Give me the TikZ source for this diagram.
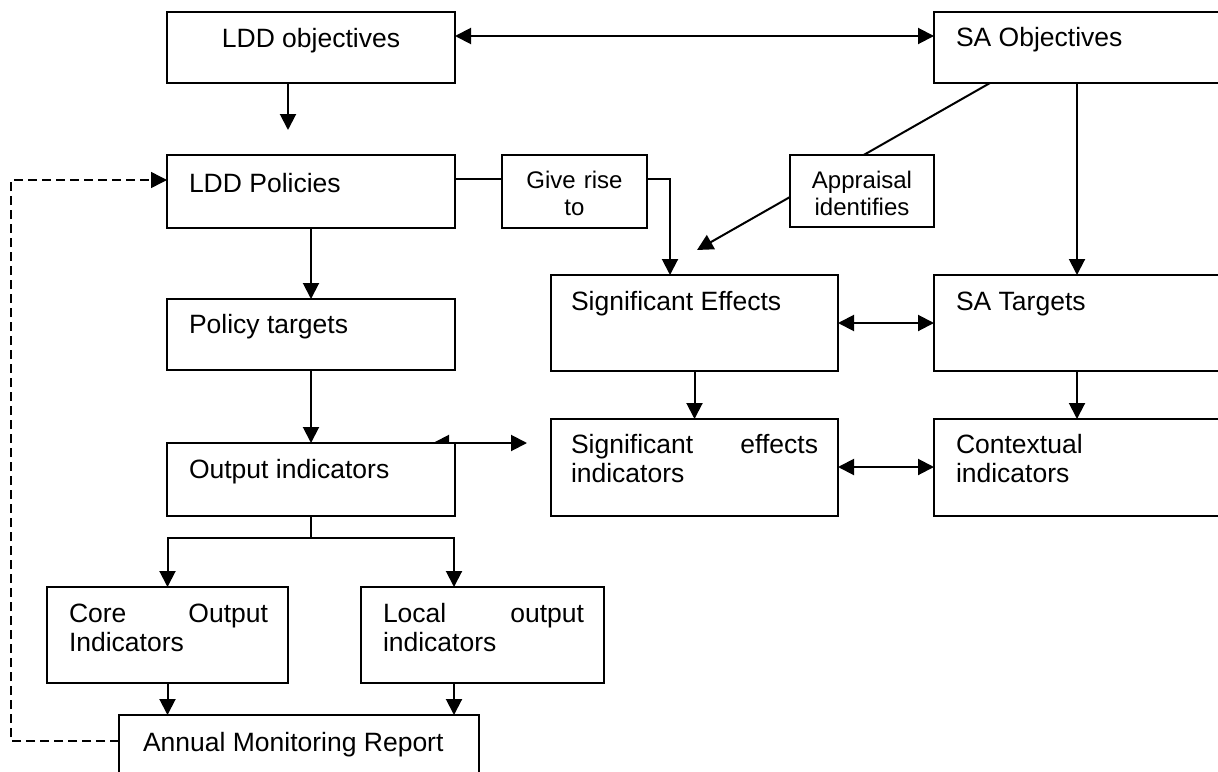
\documentclass[tikz,border=0pt]{standalone}
\usepackage{fontspec}
\setmainfont{Liberation Sans}
\usetikzlibrary{arrows.meta}
\newcommand\mainfs{\fontsize{26.5pt}{29.5pt}\selectfont}
\newcommand\smallfs{\fontsize{24pt}{27.5pt}\selectfont}
\newcommand\bxn[5]{\node[bx, minimum width={#4-#2}, minimum height={#5-#3}] (#1) at (#2,#3) {};}
\newcommand\spreadline[2]{\hbox to\hsize{#1\hfill #2}\par}
\begin{document}
\begin{tikzpicture}[x=1pt,y=-1pt,
  line width=2pt,
  bx/.style={draw, inner sep=0pt, outer sep=0pt, anchor=north west},
  arr/.style={-{Triangle[length=16pt,width=16pt]}},
  dbl/.style={{Triangle[length=16pt,width=16pt]}-{Triangle[length=16pt,width=16pt]}},
  dsh/.style={dash pattern=on 9pt off 5pt, line width=1.5pt},
  lt/.style={anchor=base west, inner sep=0pt, font=\mainfs},
  ct/.style={anchor=base, inner sep=0pt, font=\mainfs},
  st/.style={anchor=base, inner sep=0pt, font=\smallfs, align=center, text width=140pt}]
\useasboundingbox (0,0) rectangle (1218,771);
\fill[white] (0,0) rectangle (1218,771);
\clip (0,0) rectangle (1218,771);
% boxes
\bxn{ldo}{167}{12}{455}{83}
\bxn{sao}{934}{12}{1240}{83}
\bxn{ldp}{167}{155}{455}{228}
\bxn{gr}{502}{155}{647}{228}
\bxn{se}{551}{275}{838}{371}
\bxn{sat}{934}{275}{1240}{371}
\bxn{pt}{167}{299}{455}{370}
\bxn{oi}{167}{443}{455}{516}
\bxn{sei}{551}{419}{838}{516}
\bxn{ci}{934}{419}{1240}{516}
\bxn{coi}{47}{587}{288}{683}
\bxn{loi}{361}{587}{604}{683}
\bxn{amr}{119}{715}{479}{800}
% free coordinates
\coordinate (ldoend) at (288,130);
\coordinate (dl) at (11,741);
\coordinate (gx) at (670,275);
\coordinate (a1) at (990,83);
\coordinate (a2) at (697,250);
\coordinate (sx) at (1077,0);
\coordinate (d1) at (433,443);
\coordinate (d2) at (527,443);
\coordinate (br) at (311,538);
\coordinate (lx) at (454,0);
% connectors
\draw[dbl] ([yshift=-24pt]ldo.north east) -- ([yshift=-24pt]sao.north west);
\draw[arr] (ldo.south -| ldoend) -- (ldoend);
\draw[arr,dsh] ([yshift=-26pt]amr.north west) -- (dl) |- ([yshift=-25pt]ldp.north west);
\draw ([yshift=-24pt]ldp.north east) -- ([yshift=-24pt]gr.north west);
\draw[arr] ([yshift=-24pt]gr.north east) -| (gx);
\draw[arr] (a1) -- (a2);
\draw[arr] (sao.south -| sx) -- (sat.north -| sx);
\draw[dbl] ([yshift=-48pt]se.north east) -- ([yshift=-48pt]sat.north west);
\draw[arr] (se.south) -- (sei.north);
\draw[arr] (sat.south -| sx) -- (ci.north -| sx);
\draw[dbl] ([yshift=-48pt]sei.north east) -- ([yshift=-48pt]ci.north west);
\draw[arr] (ldp.south) -- (pt.north);
\draw[arr] (pt.south) -- (oi.north);
\draw[dbl] (d1) -- (d2);
\draw (oi.south) -- (br);
\draw[arr] (br) -| (coi.north);
\draw[arr] (br) -| (loi.north -| lx);
\draw[arr] (coi.south) -- (coi.south |- amr.north);
\draw[arr] (loi.south -| lx) -- (amr.north -| lx);
% boxes lying over connectors
\node[bx, fill=white, minimum width=288, minimum height=73] (oitop) at (167,443) {};
\node[bx, fill=white, minimum width=144, minimum height=72] (ai) at (790,155) {};
% texts
\node[ct] (t-ldo) at (311,47) {LDD objectives};
\node[lt] (t-sao) at (955,46) {SA Objectives};
\node[lt] (t-ldp) at (188,192) {LDD Policies};
\node[st] (t-gr) at (574.5,188) {Give rise\\to};
\node[st] (t-ai) at (862,188) {Appraisal\\identifies};
\node[lt] (t-se) at (570,310) {Significant Effects};
\node[lt] (t-sat) at (955,310) {SA Targets};
\node[lt] (t-pt) at (188,333) {Policy targets};
\node[lt] (t-oi) at (188,478) {Output indicators};
\node[lt, text width=247pt] (t-sei) at (570,453) {\spreadline{Significant}{effects}indicators};
\node[lt, text width=200pt, align=left] (t-ci) at (955,453) {Contextual\\indicators};
\node[lt, text width=199pt] (t-coi) at (68,622) {\spreadline{Core}{Output}Indicators};
\node[lt, text width=201pt] (t-loi) at (382,622) {\spreadline{Local}{output}indicators};
\node[lt] (t-amr) at (142,751) {Annual Monitoring Report};
\end{tikzpicture}
\end{document}
